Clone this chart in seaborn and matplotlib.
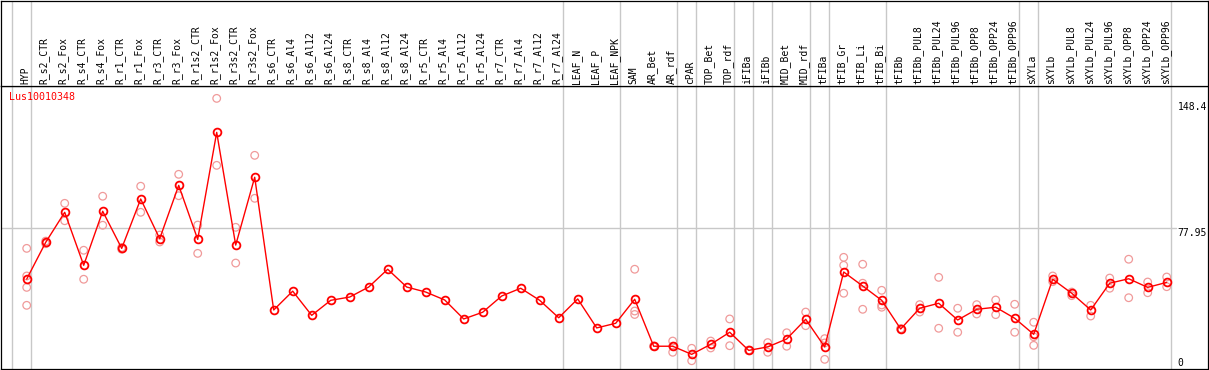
import matplotlib
matplotlib.use("Agg")
import matplotlib.pyplot as plt
import matplotlib.transforms as mtransforms
import seaborn as sns
import pandas as pd
import numpy as np

# ---------------- data ----------------
gene_id = "Lus10010348"

categories = [
    "HYP", "R_s2_CTR", "R_s2_Fox", "R_s4_CTR", "R_s4_Fox", "R_r1_CTR", "R_r1_Fox",
    "R_r3_CTR", "R_r3_Fox", "R_r1s2_CTR", "R_r1s2_Fox", "R_r3s2_CTR", "R_r3s2_Fox",
    "R_s6_CTR", "R_s6_Al4", "R_s6_Al12", "R_s6_Al24", "R_s8_CTR", "R_s8_Al4",
    "R_s8_Al12", "R_s8_Al24", "R_r5_CTR", "R_r5_Al4", "R_r5_Al12", "R_r5_Al24",
    "R_r7_CTR", "R_r7_Al4", "R_r7_Al12", "R_r7_Al24", "LEAF_N", "LEAF_P", "LEAF_NPK",
    "SAM", "AR_Bet", "AR_rdf", "cPAR", "TOP_Bet", "TOP_rdf", "iFIBa", "iFIBb",
    "MID_Bet", "MID_rdf", "tFIBa", "tFIB_Gr", "tFIB_Li", "tFIB_Bi", "tFIBb",
    "tFIBb_PUL8", "tFIBb_PUL24", "tFIBb_PUL96", "tFIBb_OPP8", "tFIBb_OPP24",
    "tFIBb_OPP96", "sXYLa", "sXYLb", "sXYLb_PUL8", "sXYLb_PUL24", "sXYLb_PUL96",
    "sXYLb_OPP8", "sXYLb_OPP24", "sXYLb_OPP96",
]

mean_values = [
    48.5, 69.8, 87.2, 56.5, 87.8, 66.3, 94.9, 71.9, 102.8, 71.5, 133.5, 68.2, 107.5,
    30.6, 41.5, 27.5, 36.2, 38.1, 43.9, 54.2, 43.9, 41.0, 36.4, 25.4, 29.3,
    38.7, 43.2, 36.2, 26.1, 37.0, 20.2, 22.9,
    36.8, 9.6, 9.6, 4.9, 10.7, 17.7, 7.2, 9.2, 13.8, 25.2, 9.2,
    52.6, 44.5, 36.2, 19.6, 31.6, 34.5, 24.8, 31.0, 32.2, 25.8,
    16.5, 48.4, 40.3, 30.6, 46.1, 48.7, 43.7, 46.6,
]

replicate_values = [
    [66.3, 50.3, 43.7, 33.3], [70.5, 69.0], [92.4, 82.3], [65.2, 48.4], [96.5, 79.7],
    [66.8, 65.8], [102.3, 87.2], [74.0, 70.0], [109.2, 96.8], [79.8, 63.4],
    [153.2, 114.4], [78.5, 57.8], [120.2, 95.3],
    [], [], [], [], [], [], [], [], [], [], [], [], [], [], [], [], [], [], [],
    [54.2, 30.0, 28.0], [9.8, 9.4], [12.6, 9.6, 6.1], [8.4, 1.2], [12.6, 8.6],
    [25.4, 9.9], [7.4, 7.0], [11.7, 6.1], [17.4, 9.6], [29.4, 21.5], [14.0, 11.5, 2.0],
    [61.1, 56.5, 40.3], [57.1, 46.1, 31.0], [42.0, 33.5, 32.2], [19.8, 19.4],
    [33.7, 29.4], [49.5, 20.0], [31.6, 17.7], [33.7, 28.3], [36.4, 27.9], [33.9, 17.7],
    [23.5, 15.1, 10.1], [50.3, 47.0], [41.0, 38.9], [33.3, 27.1], [49.1, 43.2],
    [60.0, 37.7], [46.8, 40.6], [49.7, 44.1],
]

# indices of the columns after which a group separator is drawn
separators_after = [-1, 0, 28, 31, 34, 35, 37, 38, 39, 41, 42, 45, 52, 53, 60]

scale_labels = ["148.4", "77.95", "0"]
scale_values = [148.4, 77.95, 0.0]
mid_line_value = 77.95

# ---------------- frames ----------------
pos = np.arange(len(categories))
df_mean = pd.DataFrame({"pos": pos, "value": mean_values, "cat": categories})
rows = []
for i, reps in enumerate(replicate_values):
    for v in reps:
        rows.append((i, v))
df_rep = pd.DataFrame(rows, columns=["pos", "value"])

# ---------------- figure ----------------
sns.set_style("white")
plt.rcParams["font.family"] = ["DejaVu Sans Mono", "DejaVu Sans"]

W, H = 1209, 370
fig = plt.figure(figsize=(W / 100, H / 100), dpi=100)


def rect(l, t, r, b):
    return [l / W, 1 - b / H, (r - l) / W, (b - t) / H]


ax = fig.add_axes(rect(1, 85.5, 1207.7, 369.3))
axh = fig.add_axes(rect(1, 0.5, 1207.7, 85.5))

step = 19.0
x0_px = 26.7
xlim = ((1 - x0_px) / step, (1207.7 - x0_px) / step)
px_per_unit = 1.726
zero_px = 362.8
ylim = ((zero_px - 369.3) / px_per_unit, (zero_px - 85.5) / px_per_unit)

grid_col = "#c8c8c8"
sep_off = 4.0 / step

for a in (ax, axh):
    a.set_xlim(*xlim)
    a.set_xticks([])
    a.set_yticks([])
    a.set_xlabel("")
    a.set_ylabel("")
    for s in a.spines.values():
        s.set_color("black")
        s.set_linewidth(0.9)
        s.set_visible(True)
    for c in separators_after:
        a.axvline(c + sep_off, color=grid_col, lw=1.0, zorder=0)

ax.set_ylim(*ylim)
axh.set_ylim(85, 0)

# horizontal reference line
ax.axhline(mid_line_value, xmin=0, xmax=(1176 - 1) / 1206.7, color=grid_col, lw=1.0, zorder=0)

# replicates
sns.scatterplot(data=df_rep, x="pos", y="value", ax=ax, marker="o", s=30,
                facecolors="none", edgecolors="#f09a9a", linewidth=0.9,
                zorder=2, legend=False)

# mean line
sns.lineplot(data=df_mean, x="pos", y="value", ax=ax, color="#ff0000", lw=1.0,
             marker="o", markersize=5.6, markerfacecolor="none",
             markeredgecolor="#ff0000", markeredgewidth=1.3, sort=False,
             zorder=3, legend=False)
ax.set_xlim(*xlim)
ax.set_ylim(*ylim)
ax.set_xticks([])
ax.set_yticks([])
ax.set_xlabel("")
ax.set_ylabel("")

# header labels
for i, lab in enumerate(categories):
    axh.text(i - 1.5 / step, 83.3, lab, rotation=90, ha="center", va="bottom",
             fontsize=7, color="black")

# gene id
ax.text(0.0069, 0.958, gene_id, transform=ax.transAxes, ha="left", va="center",
        fontsize=7.2, color="#ff0000")

# scale labels
trans = mtransforms.blended_transform_factory(ax.transAxes, ax.transData)
for lab, v in zip(scale_labels, scale_values):
    va = "top" if lab == "77.95" else "center"
    ax.text((1177.5 - 1) / 1206.7, v, lab, transform=trans, ha="left", va=va,
            fontsize=7, color="black")

fig.savefig("out.png", dpi=100)
